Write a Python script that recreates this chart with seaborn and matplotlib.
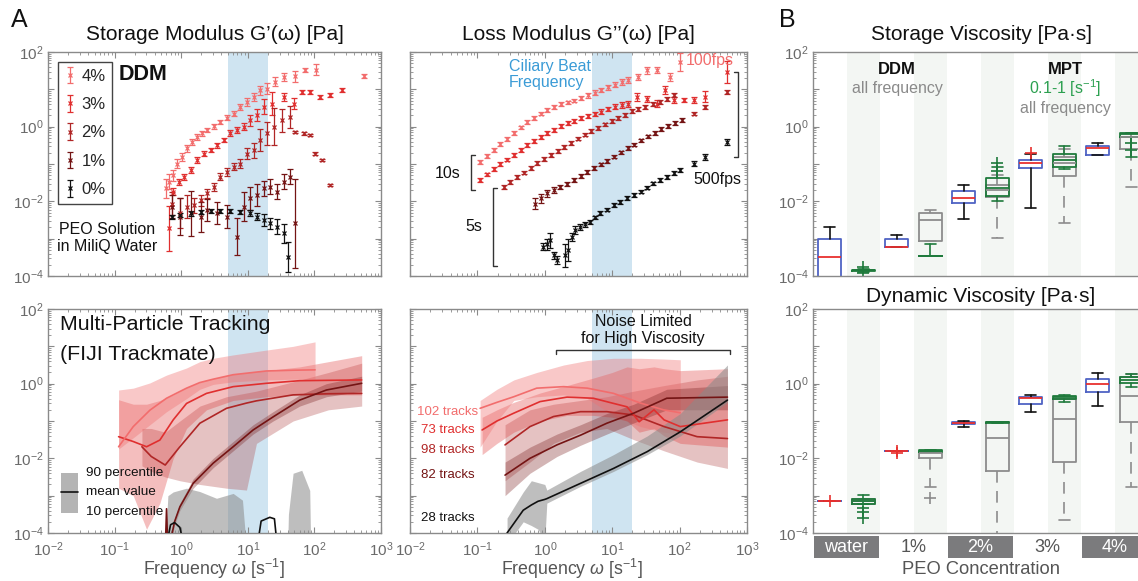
import numpy as np
import matplotlib
matplotlib.use("Agg")
import matplotlib.pyplot as plt
import seaborn as sns
import matplotlib.transforms as mtransforms
from matplotlib.ticker import LogLocator, NullFormatter, FuncFormatter
from matplotlib.patches import Rectangle
from matplotlib.lines import Line2D

# ====================== DATA (log10 values) ======================
conc = ['4%', '3%', '2%', '1%', '0%']

# --- DDM storage modulus G' : log10(omega), log10(G'), log10 error half-width
gp4_w = [-0.23,-0.19,-0.12,-0.07,0.01,0.09,0.16,0.24,0.31,0.39,0.49,0.59,0.69,0.79,0.89,0.99,1.09,1.19,1.29,1.41,1.54,1.71,1.86,2.03,2.74]
gp4_g = [-1.65,-1.48,-1.30,-0.99,-0.81,-0.58,-0.41,-0.27,-0.18,-0.09,0.01,0.13,0.24,0.35,0.53,0.66,0.80,0.98,1.02,1.20,1.33,1.35,1.51,1.53,1.35]
gp4_e = [0.25,0.2,0.15,0.12,0.1,0.1,0.08,0.08,0.06,0.06,0.06,0.06,0.06,0.06,0.08,0.1,0.1,0.12,0.15,0.12,0.12,0.15,0.05,0.15,0.05]
gp3_w = [-0.19,-0.12,-0.04,0.04,0.14,0.24,0.34,0.44,0.54,0.64,0.74,0.84,0.94,1.04,1.14,1.24,1.36,1.54,1.69,1.81,1.94,2.09,2.24,2.41]
gp3_g = [-2.72,-1.74,-1.48,-1.34,-1.16,-0.90,-0.72,-0.63,-0.50,-0.36,-0.18,-0.09,0.0,0.17,0.31,0.53,0.62,0.80,0.62,0.93,0.93,0.80,0.84,0.99]
gp3_e = [0.6,0.1,0.08,0.08,0.08,0.08,0.06,0.06,0.06,0.06,0.08,0.08,0.1,0.15,0.15,0.2,0.3,0.1,0.15,0.05,0.05,0.05,0.05,0.05]
gp2_w = [-0.14,-0.02,0.09,0.19,0.29,0.39,0.49,0.59,0.69,0.79,0.89,0.99,1.09,1.19,1.29,1.39,1.51,1.64,1.71,1.84,1.94,2.01,2.11,2.24]
gp2_g = [-2.06,-2.32,-2.14,-2.10,-1.97,-1.79,-1.61,-1.34,-1.21,-1.07,-0.99,-0.72,-0.63,-0.36,-0.18,0.0,0.17,0.26,-0.14,-0.18,-0.23,-0.72,-0.90,-1.57]
gp2_e = [0.3,0.4,0.3,0.2,0.15,0.12,0.1,0.1,0.1,0.1,0.12,0.15,0.2,0.3,0.3,0.5,0.3,0.3,0.03,0.03,0.03,0.03,0.03,0.03]
gp1_w = [-0.14,-0.02,0.14,0.29,0.39,0.54,0.69,0.84,0.94,1.04,1.14,1.24,1.34,1.44,1.54,1.64,1.71]
gp1_g = [-2.14,-2.41,-2.32,-2.41,-2.23,-2.32,-2.41,-2.95,-2.14,-1.92,-1.83,-1.65,-1.61,-1.74,-1.48,-1.34,-2.59]
gp1_e = [0.3,0.5,0.6,0.4,0.3,0.3,0.3,0.5,0.4,0.3,0.3,0.2,0.2,0.2,0.2,0.2,1.2]
gp0_w = [-0.14,-0.02,0.14,0.29,0.44,0.59,0.74,0.89,1.04,1.14,1.24,1.34,1.44,1.54,1.60]
gp0_g = [-2.41,-2.37,-2.32,-2.28,-2.25,-2.25,-2.25,-2.28,-2.32,-2.41,-2.50,-2.59,-2.68,-2.86,-3.50]
gp0_e = [0.05,0.06,0.06,0.05,0.05,0.05,0.05,0.06,0.08,0.1,0.15,0.15,0.2,0.25,0.4]

# --- DDM loss modulus G''
gpp4_w = [-0.96,-0.86,-0.76,-0.66,-0.56,-0.46,-0.36,-0.26,-0.16,-0.06,0.04,0.14,0.24,0.34,0.44,0.54,0.64,0.74,0.84,0.94,1.04,1.14,1.24,1.39,1.51,1.66,1.86,2.01]
gpp4_g = [-0.94,-0.78,-0.62,-0.47,-0.33,-0.17,-0.02,0.12,0.24,0.35,0.45,0.53,0.60,0.65,0.70,0.76,0.84,0.91,0.98,1.05,1.12,1.19,1.25,1.33,1.51,1.51,1.33,1.73]
gpp4_e = [0.05,0.05,0.05,0.05,0.05,0.05,0.05,0.05,0.05,0.05,0.05,0.05,0.05,0.05,0.05,0.05,0.06,0.06,0.06,0.07,0.07,0.08,0.08,0.08,0.1,0.08,0.1,0.25]
gpp3_w = [-0.96,-0.86,-0.76,-0.66,-0.56,-0.46,-0.36,-0.26,-0.16,-0.06,0.04,0.14,0.24,0.34,0.44,0.54,0.64,0.74,0.84,0.94,1.04,1.14,1.24,1.37,1.51,1.66,1.79,1.91,2.06,2.21,2.38,2.70]
gpp3_g = [-1.43,-1.28,-1.13,-1.0,-0.88,-0.75,-0.62,-0.50,-0.38,-0.28,-0.17,-0.08,0.01,0.09,0.16,0.23,0.28,0.34,0.40,0.47,0.53,0.58,0.62,0.80,0.75,0.62,0.98,0.71,0.71,0.71,0.80,1.47]
gpp3_e = [0.06,0.05,0.05,0.05,0.05,0.05,0.05,0.05,0.05,0.05,0.05,0.05,0.05,0.05,0.05,0.05,0.05,0.06,0.06,0.06,0.07,0.08,0.08,0.1,0.08,0.1,0.1,0.08,0.05,0.08,0.15,0.3]
gpp2_w = [-0.61,-0.51,-0.41,-0.31,-0.21,-0.11,-0.01,0.09,0.19,0.29,0.39,0.49,0.59,0.69,0.79,0.89,0.99,1.09,1.19,1.29,1.39,1.49,1.61,1.71,1.81,1.91,2.21,2.38,2.70]
gpp2_g = [-1.61,-1.48,-1.35,-1.23,-1.10,-0.98,-0.87,-0.76,-0.65,-0.55,-0.44,-0.32,-0.21,-0.12,-0.03,0.06,0.15,0.24,0.32,0.41,0.47,0.52,0.60,0.66,0.74,0.84,0.35,0.53,0.93]
gpp2_e = [0.05,0.05,0.05,0.05,0.05,0.05,0.05,0.05,0.05,0.05,0.05,0.05,0.05,0.05,0.05,0.05,0.05,0.05,0.05,0.05,0.05,0.05,0.05,0.05,0.05,0.05,0.05,0.06,0.05]
gpp1_w = [-0.14,-0.06,0.03,0.13,0.23,0.33,0.43,0.53,0.63,0.73,0.83,0.93,1.03,1.13,1.23,1.33,1.43,1.53,1.63,1.73,1.83,1.93,2.03]
gpp1_g = [-2.06,-1.92,-1.79,-1.70,-1.62,-1.53,-1.43,-1.33,-1.22,-1.11,-1.01,-0.91,-0.80,-0.69,-0.58,-0.48,-0.37,-0.26,-0.16,-0.07,0.01,0.10,0.18]
gpp1_e = [0.15,0.12,0.1,0.08,0.06,0.05,0.05,0.05,0.05,0.05,0.05,0.05,0.05,0.05,0.05,0.05,0.05,0.05,0.05,0.05,0.05,0.05,0.05]
gpp0_w = [-0.02,0.03,0.08,0.13,0.18,0.30,0.35,0.40,0.45,0.52,0.60,0.67,0.75,0.82,0.92,1.02,1.12,1.22,1.32,1.42,1.52,1.61,1.71,1.81,1.91,2.01,2.21,2.38,2.70]
gpp0_g = [-3.21,-3.15,-3.04,-3.45,-3.57,-3.45,-3.30,-2.95,-2.77,-2.68,-2.62,-2.55,-2.43,-2.32,-2.22,-2.10,-2.01,-1.92,-1.83,-1.74,-1.63,-1.52,-1.43,-1.34,-1.25,-1.16,-0.99,-0.81,-0.41]
gpp0_e = [0.1,0.15,0.2,0.1,0.1,0.3,0.3,0.1,0.1,0.08,0.06,0.06,0.05,0.05,0.05,0.05,0.05,0.05,0.05,0.05,0.05,0.05,0.05,0.05,0.05,0.06,0.06,0.07,0.08]

# --- MPT storage modulus G' : log10 omega, mean, 10 / 90 percentile
m4_w = [-0.94,-0.72,-0.47,-0.22,0.08,0.28,0.48,0.78,1.28,1.68,2.01]
m4_m = [-1.69,-1.15,-0.71,-0.39,-0.12,0.03,0.12,0.24,0.34,0.36,0.37]
m4_hi = [-0.17,-0.12,0.02,0.23,0.42,0.59,0.68,0.77,0.90,1.0,1.12]
m4_lo = [-1.75,-1.45,-1.1,-0.75,-0.4,-0.15,-0.02,0.05,0.1,0.12,0.12]
m3_w = [-0.94,-0.72,-0.52,-0.32,-0.12,0.08,0.38,0.78,1.28,1.78,2.71]
m3_m = [-1.42,-1.55,-1.69,-1.51,-0.97,-0.53,-0.26,-0.08,0.01,0.08,0.10]
m3_hi = [-0.43,-0.55,-0.55,-0.45,-0.3,-0.1,0.1,0.25,0.35,0.45,0.75]
m3_lo = [-2.8,-3.0,-3.9,-3.2,-2.0,-1.2,-0.7,-0.45,-0.35,-0.3,-0.3]
m2_w = [-0.59,-0.45,-0.24,-0.02,0.28,0.68,0.98,1.13,1.68,2.21,2.71]
m2_m = [-1.69,-1.95,-2.18,-1.69,-1.06,-0.66,-0.52,-0.46,-0.30,-0.27,-0.26]
m2_hi = [-1.2,-1.2,-1.3,-1.0,-0.6,-0.35,-0.25,-0.2,0.05,0.3,0.55]
m2_lo = [-2.2,-2.35,-2.5,-2.6,-2.7,-2.8,-2.85,-1.6,-1.0,-0.7,-0.6]
m1_w = [-0.24,-0.22,-0.20,-0.17,-0.10,-0.02,0.18,0.48,0.78,1.08,1.38,1.78,2.18,2.71]
m1_m = [-4.5,-3.35,-4.5,-4.3,-3.7,-3.30,-2.67,-2.13,-1.69,-1.24,-0.89,-0.44,-0.17,0.01]
m1_hi = [-4.5,-3.3,-4.5,-4.2,-3.6,-3.2,-2.55,-2.0,-1.55,-1.1,-0.75,-0.3,0.0,0.2]
m1_lo = [-4.5,-3.4,-4.5,-4.4,-3.8,-3.4,-2.8,-2.25,-1.8,-1.35,-1.0,-0.6,-0.35,-0.2]
m0_band_w = [-0.26,-0.20,-0.12,0.08,0.28,0.53,0.78,0.92,0.96,0.97,1.59,1.61,1.68,1.81,1.93,1.95]
m0_band_hi = [-5,-3.0,-2.9,-2.80,-2.89,-3.07,-2.94,-3.12,-4.0,-5,-5,-3.5,-2.40,-2.32,-2.86,-5]
m0_w = [-0.24,-0.16,-0.10,-0.02,0.06,1.13,1.20,1.33,1.40,1.45]
m0_m = [-4.5,-3.78,-3.72,-3.85,-4.5,-4.5,-3.68,-3.58,-3.62,-4.5]

# --- MPT loss modulus G''
l4_w = [-0.96,-0.71,-0.46,-0.12,0.28,0.63,1.02,1.42,1.76,2.01]
l4_m = [-0.66,-0.50,-0.35,-0.12,-0.08,-0.12,-0.26,-0.52,-0.70,-0.78]
l4_hi = [-0.45,-0.15,0.10,0.30,0.50,0.62,0.68,0.68,0.66,0.64]
l4_lo = [-1.7,-1.0,-0.45,-0.35,-0.30,-0.40,-0.85,-1.15,-1.30,-1.35]
l3_w = [-0.93,-0.71,-0.46,-0.07,0.33,0.72,1.0,1.22,1.40,1.62,1.77,2.01,2.71]
l3_m = [-1.24,-1.0,-0.79,-0.48,-0.36,-0.39,-0.52,-0.62,-1.02,-0.70,-0.97,-1.15,-0.97]
l3_hi = [-0.9,-0.7,-0.5,-0.25,-0.05,0.15,0.30,0.45,0.40,0.45,0.40,0.35,0.40]
l3_lo = [-1.9,-1.6,-1.3,-1.0,-0.85,-0.85,-0.90,-1.00,-1.3,-1.2,-1.4,-1.6,-1.7]
l2_w = [-0.59,-0.22,0.13,0.53,0.92,1.32,1.77,2.26,2.71]
l2_m = [-1.64,-1.15,-0.88,-0.75,-0.75,-0.84,-1.15,-1.42,-1.47]
l2_hi = [-1.1,-0.7,-0.55,-0.45,-0.35,-0.2,-0.05,0.1,0.2]
l2_lo = [-2.6,-2.1,-1.6,-1.3,-1.2,-1.5,-1.8,-2.1,-2.27]
l1_w = [-0.59,-0.22,0.18,0.53,0.92,1.32,1.81,2.71]
l1_m = [-2.45,-2.0,-1.64,-1.38,-1.06,-0.79,-0.39,-0.36]
l1_hi = [-2.1,-1.7,-1.35,-1.1,-0.8,-0.55,-0.15,-0.05]
l1_lo = [-3.0,-2.4,-1.95,-1.65,-1.35,-1.05,-0.7,-0.7]
l0_w = [-0.56,-0.32,-0.20,-0.10,0.0,0.03,0.53,1.02,1.52,2.01,2.71]
l0_m = [-4.0,-3.39,-3.25,-3.15,-3.1,-3.08,-2.67,-2.27,-1.82,-1.29,-0.44]
l0_hi = [-3.6,-2.9,-2.6,-2.65,-2.7,-2.85,-2.35,-1.9,-1.4,-0.8,0.5]
l0_lo = [-4.3,-3.7,-3.8,-3.9,-4.2,-3.2,-2.75,-2.35,-1.9,-1.4,-0.5]
tracks = ['102 tracks', '73 tracks', '98 tracks', '82 tracks', '28 tracks']

# --- B: box statistics (log10 Pa.s); categories water,1%,2%,3%,4%
groups = ['water', '1%', '2%', '3%', '4%']
sv_ddm = dict(lo=[-5.0,-3.23,-2.48,-2.19,-0.77], q1=[-5.0,-3.23,-2.05,-1.12,-0.77],
              med=[-3.48,-3.23,-1.92,-0.98,-0.58], q3=[-3.02,-3.01,-1.72,-0.89,-0.52],
              hi=[-2.68,-2.90,-1.56,-0.74,-0.43], fl=[[],[],[],[-0.70],[]])
sv_grn = dict(lo=[-3.9,-3.46,-1.98,-1.14,-0.80], q1=[-3.87,-3.46,-1.85,-1.07,-0.27],
              med=[-3.85,-3.46,-1.65,-0.90,-0.20], q3=[-3.83,-3.46,-1.38,-0.74,-0.18],
              hi=[-3.8,-3.15,-1.09,-0.51,-0.18], fl=[[-3.75,-3.92],[],[-0.98,-1.18],[],[-0.45,-0.63]])
sv_gry = dict(lo=[-5.0,-3.05,-2.97,-2.59,-1.61], q1=[-5.0,-3.05,-1.88,-1.31,-0.60],
              med=[-5.0,-2.50,-1.70,-0.98,-0.28], q3=[-5.0,-2.32,-1.55,-0.80,-0.27],
              hi=[-5.0,-2.23,-1.30,-0.60,-0.18], fl=[[],[],[],[],[]])
dv_ddm = dict(lo=[-3.14,-1.80,-1.16,-0.75,-0.59], q1=[-3.14,-1.80,-1.08,-0.55,-0.23],
              med=[-3.14,-1.80,-1.05,-0.39,0.0], q3=[-3.14,-1.80,-1.02,-0.35,0.125],
              hi=[-3.14,-1.80,-1.0,-0.30,0.29], fl=[[-3.14],[-1.80,-1.86],[],[],[]])
dv_grn = dict(lo=[-3.22,-1.82,-1.05,-0.49,-0.10], q1=[-3.22,-1.82,-1.05,-0.42,0.01],
              med=[-3.15,-1.80,-1.04,-0.37,0.10], q3=[-3.09,-1.79,-1.03,-0.32,0.19],
              hi=[-2.98,-1.79,-1.03,-0.30,0.25], fl=[[-3.32,-3.43,-3.61],[],[],[],[]])
dv_gry = dict(lo=[-3.22,-2.78,-5.0,-3.65,-2.78], q1=[-3.22,-2.0,-2.33,-2.09,-1.02],
              med=[-3.15,-1.85,-1.46,-0.95,-0.32], q3=[-3.09,-1.80,-1.04,-0.42,0.19],
              hi=[-3.09,-1.80,-1.04,-0.42,0.25], fl=[[],[-3.05],[],[],[]])

# ====================== STYLE ======================
sns.set_theme(style="ticks")
plt.rcParams['font.family'] = ['Liberation Sans', 'DejaVu Sans']
plt.rcParams['mathtext.fontset'] = 'custom'
plt.rcParams['mathtext.rm'] = 'Liberation Sans'
plt.rcParams['mathtext.it'] = 'Liberation Sans:italic'
plt.rcParams['mathtext.bf'] = 'Liberation Sans:bold'

W, H = 1138, 581
fig = plt.figure(figsize=(W / 100, H / 100), dpi=100)
fig.patch.set_facecolor('white')

COL = ['#f26d6d', '#e02f2f', '#b02626', '#741414', '#111111']
BAND = ['#f07070', '#e03c3c', '#b04848', '#7a2020', '#8a8a8a']
BAND_A = [0.38, 0.33, 0.33, 0.33, 0.55]
TICKC = '#6a6a6a'
SPINEC = '#8a8a8a'


def rect(x0, y0, x1, y1):
    return [x0 / W, 1 - y1 / H, (x1 - x0) / W, (y1 - y0) / H]


def ftext(x, y, s, **kw):
    return fig.text(x / W, 1 - y / H, s, **kw)


def fline(xs, ys, **kw):
    fig.add_artist(Line2D([x / W for x in xs], [1 - y / H for y in ys],
                          transform=fig.transFigure, **kw))


def even_fmt(v, pos):
    if v <= 0:
        return ''
    e = int(round(np.log10(v)))
    return r'$10^{%d}$' % e if e % 2 == 0 else ''


def all_fmt(v, pos):
    if v <= 0:
        return ''
    e = int(round(np.log10(v)))
    return r'$10^{%d}$' % e


def style_log_y(ax):
    ax.set_yscale('log')
    ax.set_ylim(1e-4, 1e2)
    ax.yaxis.set_major_locator(LogLocator(base=10, numticks=12))
    ax.yaxis.set_minor_locator(LogLocator(base=10, subs=np.arange(2, 10), numticks=100))
    ax.yaxis.set_major_formatter(FuncFormatter(even_fmt))
    ax.yaxis.set_minor_formatter(NullFormatter())


def style_freq(ax, xlab, ylab):
    ax.set_xscale('log')
    ax.set_xlim(1e-2, 1e3)
    style_log_y(ax)
    ax.xaxis.set_major_locator(LogLocator(base=10, numticks=12))
    ax.xaxis.set_minor_locator(LogLocator(base=10, subs=np.arange(2, 10), numticks=100))
    ax.xaxis.set_major_formatter(FuncFormatter(all_fmt) if xlab else NullFormatter())
    ax.xaxis.set_minor_formatter(NullFormatter())
    if not ylab:
        ax.yaxis.set_major_formatter(NullFormatter())
    ax.tick_params(which='both', direction='in', top=True, right=True,
                   color=SPINEC, labelcolor=TICKC, labelsize=11)
    ax.tick_params(axis='y', pad=3)
    ax.tick_params(axis='x', pad=5)
    ax.tick_params(which='major', length=4, width=0.8)
    ax.tick_params(which='minor', length=2.2, width=0.6)
    for s in ax.spines.values():
        s.set_color(SPINEC)
        s.set_linewidth(1.0)
    ax.axvspan(5, 20, color='#cfe4f1', zorder=0, lw=0)
    ax.set_facecolor('white')


def ebar(ax, lw, lg, er, color, label=None):
    w = 10 ** np.array(lw)
    g = 10 ** np.array(lg)
    e = np.array(er)
    lo = g - g * 10 ** (-e)
    hi = g * 10 ** e - g
    return ax.errorbar(w, g, yerr=[lo, hi], fmt='x', color=color, ms=3, mew=0.9,
                       elinewidth=0.9, capsize=2, capthick=0.9, label=label, zorder=3)


def band(ax, lw, mean, lo, hi, i):
    w = 10 ** np.array(lw)
    ax.fill_between(w, 10 ** np.array(lo), 10 ** np.array(hi), color=BAND[i],
                    alpha=BAND_A[i], lw=0, zorder=1)
    sns.lineplot(x=w, y=10 ** np.array(mean), ax=ax, color=COL[i], lw=1.2,
                 estimator=None, sort=False, zorder=3)


# ====================== AXES ======================
ax_gp = fig.add_axes(rect(48, 52, 381, 276))
ax_gpp = fig.add_axes(rect(410, 52, 747, 276))
ax_mgp = fig.add_axes(rect(48, 309, 381, 533))
ax_mgpp = fig.add_axes(rect(410, 309, 747, 533))
ax_sv = fig.add_axes(rect(813, 52, 1148, 276))
ax_dv = fig.add_axes(rect(813, 309, 1148, 533))

style_freq(ax_gp, False, True)
style_freq(ax_gpp, False, False)
style_freq(ax_mgp, True, True)
style_freq(ax_mgpp, True, False)

# ---- top-left: DDM G'
gp_sets = [(gp4_w, gp4_g, gp4_e), (gp3_w, gp3_g, gp3_e), (gp2_w, gp2_g, gp2_e),
           (gp1_w, gp1_g, gp1_e), (gp0_w, gp0_g, gp0_e)]
handles = []
for i, (w_, g_, e_) in enumerate(gp_sets):
    handles.append(ebar(ax_gp, w_, g_, e_, COL[i], conc[i]))
leg = ax_gp.legend(handles=handles, loc='upper left', bbox_to_anchor=(0.03, 0.955),
                   borderaxespad=0, fontsize=12, frameon=True, fancybox=False,
                   edgecolor='#444444', framealpha=1, handlelength=0.6,
                   handletextpad=0.4, borderpad=0.4, labelspacing=0.8)
leg.get_frame().set_linewidth(1.0)

# ---- top-middle: DDM G''
gpp_sets = [(gpp4_w, gpp4_g, gpp4_e), (gpp3_w, gpp3_g, gpp3_e), (gpp2_w, gpp2_g, gpp2_e),
            (gpp1_w, gpp1_g, gpp1_e), (gpp0_w, gpp0_g, gpp0_e)]
for i, (w_, g_, e_) in enumerate(gpp_sets):
    ebar(ax_gpp, w_, g_, e_, COL[i])

# ---- bottom-left: MPT G'
band(ax_mgp, m2_w, m2_m, m2_lo, m2_hi, 2)
band(ax_mgp, m3_w, m3_m, m3_lo, m3_hi, 1)
band(ax_mgp, m4_w, m4_m, m4_lo, m4_hi, 0)
band(ax_mgp, m1_w, m1_m, m1_lo, m1_hi, 3)
ax_mgp.fill_between(10 ** np.array(m0_band_w), 1e-6, 10 ** np.array(m0_band_hi),
                    color=BAND[4], alpha=BAND_A[4], lw=0, zorder=1)
sns.lineplot(x=10 ** np.array(m0_w), y=10 ** np.array(m0_m), ax=ax_mgp, color=COL[4],
             lw=1.2, estimator=None, sort=False, zorder=3)

# ---- bottom-middle: MPT G''
band(ax_mgpp, l2_w, l2_m, l2_lo, l2_hi, 2)
band(ax_mgpp, l3_w, l3_m, l3_lo, l3_hi, 1)
band(ax_mgpp, l4_w, l4_m, l4_lo, l4_hi, 0)
band(ax_mgpp, l1_w, l1_m, l1_lo, l1_hi, 3)
band(ax_mgpp, l0_w, l0_m, l0_lo, l0_hi, 4)

for ax in (ax_mgp, ax_mgpp):
    ax.set_xlim(1e-2, 1e3)
    ax.set_ylim(1e-4, 1e2)


# ---- B panels
def to_stats(d):
    out = []
    for k in range(5):
        out.append(dict(med=10 ** d['med'][k], q1=10 ** d['q1'][k], q3=10 ** d['q3'][k],
                        whislo=10 ** d['lo'][k], whishi=10 ** d['hi'][k],
                        fliers=[10 ** f for f in d['fl'][k]]))
    return out


def boxes(ax, d, pos, cbox, cmed, cwh, ls='-', cfl=None):
    ax.bxp(to_stats(d), positions=pos, widths=0.7, showfliers=True,
           boxprops=dict(color=cbox, lw=1.3),
           medianprops=dict(color=cmed, lw=1.3),
           whiskerprops=dict(color=cwh, lw=1.2, ls=ls),
           capprops=dict(color=cwh, lw=1.2),
           flierprops=dict(marker='+', markeredgecolor=cfl or cwh, markersize=8, mew=1.2),
           capwidths=0.32, manage_ticks=False)


GRN = '#1f7a3c'
GRY = '#8c8c8c'
BLU = '#4f63c4'
RED = '#e8302e'
pos_ddm = [1, 3, 5, 7, 9]
pos_mpt = [2, 4, 6, 8, 10]
for ax, ddm, gry, grn in ((ax_sv, sv_ddm, sv_gry, sv_grn), (ax_dv, dv_ddm, dv_gry, dv_grn)):
    style_log_y(ax)
    ax.set_xlim(0.5, 10.5)
    ax.set_xticks([])
    for p in pos_mpt:
        ax.axvspan(p - 0.5, p + 0.5, color='#f3f6f3', zorder=0, lw=0)
    ax.tick_params(which='both', direction='in', color=SPINEC, labelcolor=TICKC,
                   labelsize=11, pad=3, right=True)
    ax.tick_params(which='major', length=4, width=0.8)
    ax.tick_params(which='minor', length=2.2, width=0.6)
    for s in ax.spines.values():
        s.set_color(SPINEC)
        s.set_linewidth(1.0)
    boxes(ax, ddm, pos_ddm, BLU, RED, '#111111', cfl=RED)
    boxes(ax, gry, pos_mpt, GRY, GRY, GRY, ls=(0, (7, 5)))
    boxes(ax, grn, pos_mpt, GRN, GRN, GRN)
    ax.set_ylim(1e-4, 1e2)

# category bar below dynamic viscosity
trans = mtransforms.blended_transform_factory(ax_dv.transData, ax_dv.transAxes)
for k, g in enumerate(groups):
    x0 = 2 * k + 0.5
    filled = (k % 2 == 0)
    if filled:
        ax_dv.add_patch(Rectangle((x0 + 0.02, -0.112), 1.96, 0.099, transform=trans,
                                  facecolor='#7b7b7d', edgecolor='none', clip_on=False))
    ax_dv.text(x0 + 1.0, -0.064, g, transform=trans, ha='center', va='center',
               fontsize=13, color='white' if filled else '#555555', clip_on=False)

# ====================== TEXT ======================
ftext(19, 20, 'A', fontsize=18, ha='center', va='center', color='#111111')
ftext(787, 20, 'B', fontsize=18, ha='center', va='center', color='#111111')
ftext(215, 34, "Storage Modulus G\u2019(\u03c9) [Pa]", fontsize=15, ha='center', va='center', color='#111111')
ftext(578, 34, "Loss Modulus G\u2019\u2019(\u03c9) [Pa]", fontsize=15, ha='center', va='center', color='#111111')
ftext(981, 34, "Storage Viscosity [Pa\u00b7s]", fontsize=15, ha='center', va='center', color='#111111')
ftext(981, 296, "Dynamic Viscosity [Pa\u00b7s]", fontsize=15, ha='center', va='center', color='#111111')
ftext(214, 569, r'Frequency $\omega$ [s$^{-1}$]', fontsize=12.8, ha='center', va='center', color='#555555')
ftext(572, 569, r'Frequency $\omega$ [s$^{-1}$]', fontsize=12.8, ha='center', va='center', color='#555555')
ftext(981, 570, 'PEO Concentration', fontsize=13.2, ha='center', va='center', color='#555555')

# top-left annotations
ftext(143, 74, 'DDM', fontsize=15.5, fontweight='bold', ha='center', va='center', color='#111111')
ftext(107, 229, 'PEO Solution', fontsize=11.5, ha='center', va='center', color='#111111')
ftext(107, 247, 'in MiliQ Water', fontsize=11.5, ha='center', va='center', color='#111111')

# top-middle annotations
ftext(509, 67, 'Ciliary Beat', fontsize=11.5, ha='left', va='center', color='#3a9bd6')
ftext(509, 83, 'Frequency', fontsize=11.5, ha='left', va='center', color='#3a9bd6')
ftext(686, 61, '100fps', fontsize=11.5, ha='left', va='center', color=COL[0])
ftext(693, 180, '500fps', fontsize=11.5, ha='left', va='center', color='#111111')
fline([734, 738, 738, 734], [72, 72, 157, 157], color='#333333', lw=1)
ftext(448, 173, '10s', fontsize=11.5, ha='center', va='center', color='#111111')
fline([475, 471, 471, 475], [155, 155, 190, 190], color='#333333', lw=1)
ftext(474, 227, '5s', fontsize=11.5, ha='center', va='center', color='#111111')
fline([497, 493, 493, 497], [188, 188, 266, 266], color='#333333', lw=1)

# bottom-left annotations
ftext(60, 325, 'Multi-Particle Tracking', fontsize=15.4, ha='left', va='center', color='#111111')
ftext(60, 355, '(FIJI Trackmate)', fontsize=15.4, ha='left', va='center', color='#111111')
fig.add_artist(Rectangle((61 / W, 1 - 513 / H), 17 / W, 40 / H, transform=fig.transFigure,
                         facecolor='#b4b4b4', edgecolor='none'))
fline([61, 78], [492, 492], color='#111111', lw=1.2)
ftext(86, 473, '90 percentile', fontsize=9.7, ha='left', va='center', color='#111111')
ftext(86, 492, 'mean value', fontsize=9.7, ha='left', va='center', color='#111111')
ftext(86, 512, '10 percentile', fontsize=9.7, ha='left', va='center', color='#111111')

# bottom-middle annotations
ftext(643, 322, 'Noise Limited', fontsize=11.5, ha='center', va='center', color='#111111')
ftext(643, 339, 'for High Viscosity', fontsize=11.5, ha='center', va='center', color='#111111')
fline([556, 556, 730, 730], [354, 350, 350, 354], color='#333333', lw=1)
track_y = [412, 430, 450, 475, 518]
track_x = [478, 475, 475, 475, 475]
for i, t in enumerate(tracks):
    ftext(track_x[i], track_y[i], t, fontsize=9.5, ha='right', va='center', color=COL[i])

# B annotations
ftext(897, 69, 'DDM', fontsize=12, fontweight='bold', ha='center', va='center', color='#111111')
ftext(897, 88, 'all frequency', fontsize=11.5, ha='center', va='center', color='#8a8a8a')
ftext(1065, 69, 'MPT', fontsize=12, fontweight='bold', ha='center', va='center', color='#111111')
ftext(1065, 88, r'0.1-1 [s$^{-1}$]', fontsize=11.5, ha='center', va='center', color='#2ca050')
ftext(1065, 108, 'all frequency', fontsize=11.5, ha='center', va='center', color='#8a8a8a')

fig.savefig('out.png', dpi=100)
